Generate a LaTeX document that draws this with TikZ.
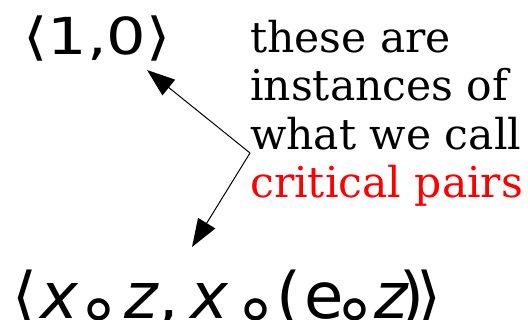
\documentclass[tikz,border=0pt]{standalone}
\usepackage{fontspec}
\usepackage{tikz}
\usepackage{xcolor}
\usetikzlibrary{arrows.meta}
\setmainfont{DejaVu Serif}
\newfontfamily\pairfont{DejaVu Sans}
\definecolor{Note_Red}{HTML}{FF0000}
\newcommand{\ring}{\makebox[0pt]{\raisebox{-14pt}{\fontsize{72}{72}\selectfont ∘}}}

\begin{document}
\begin{tikzpicture}[x=1pt, y=-1pt, >={Triangle[length=28pt, width=20pt]}]
    \useasboundingbox (0, 0) rectangle (528, 320);

    % Pairs
    \node[anchor=base west, inner sep=0pt, font=\pairfont\fontsize{51}{60}\selectfont] (pairtop) at (23, 55) {\scalebox{1.22}[1]{⟨1,0⟩}};
    \node[anchor=base west, inner sep=0pt, font=\pairfont\fontsize{64}{70}\selectfont] (pairbot) at (12, 319)
        {⟨\kern3pt\textit{x}\kern20pt\ring\kern26pt\textit{z},\kern12pt\textit{x}\kern27pt\ring\kern21pt(\kern3pt e\kern11pt\ring\kern19pt\textit{z}\kern-10pt)\kern-8pt⟩};

    % Note
    \node[anchor=north west, inner sep=0pt, align=left, font=\fontsize{42.5}{48.3}\selectfont] (note) at (250, 20) {these are\\instances of\\what we call\\\textcolor{Note_Red}{critical pairs}};

    % Arrows
    \coordinate (fork) at (250, 153);
    \coordinate (tiptop) at (147, 70);
    \coordinate (tipbot) at (192, 247);
    \draw[->, line width=1pt] (fork) -- (tiptop);
    \draw[->, line width=1pt] (fork) -- (tipbot);
\end{tikzpicture}
\end{document}
